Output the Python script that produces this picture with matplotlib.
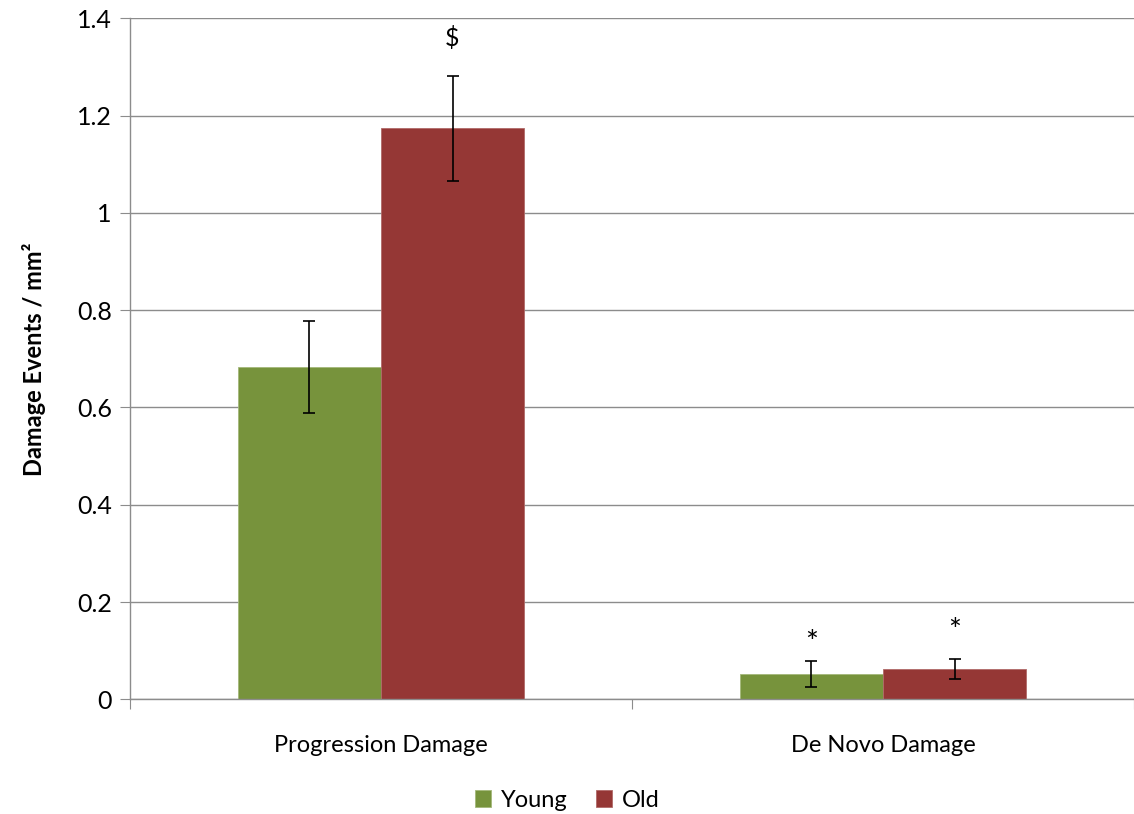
"""
Damage events per mm2 for young and old groups, bar chart with SEM error bars
"""

import numpy as np
import matplotlib
matplotlib.use('Agg')
import matplotlib.pyplot as plt

plt.rcParams['font.family'] = ['Lato', 'DejaVu Sans']

# Data
categories = ['Progression Damage', 'De Novo Damage']
groups = ['Young', 'Old']
young_mean = [0.683, 0.052]
young_err = [0.095, 0.026]
old_mean = [1.174, 0.062]
old_err = [0.108, 0.020]
# significance marks: (category, group, label, y)
marks = [(0, 'Old', '$', 1.36), (1, 'Young', '*', 0.115), (1, 'Old', '*', 0.14)]

colors = {'Young': '#77933C', 'Old': '#953735'}
grid_col = '#8c8c8c'

fig = plt.figure(figsize=(11.34, 8.14), dpi=100)
ax = fig.add_axes([0.1146, 0.1409, 0.8854, 0.8366])

x = np.arange(len(categories))
w = 0.285
offsets = {'Young': -w / 2, 'Old': w / 2}

ax.bar(x + offsets['Young'], young_mean, width=w, color=colors['Young'],
       edgecolor='#a4b87a', linewidth=0.6, label='Young', zorder=2)
ax.bar(x + offsets['Old'], old_mean, width=w, color=colors['Old'],
       edgecolor='#b06a68', linewidth=0.6, label='Old', zorder=2)
ax.errorbar(x + offsets['Young'], young_mean, yerr=young_err, fmt='none',
            ecolor='black', elinewidth=1.2, capsize=4, capthick=1.2, zorder=3)
ax.errorbar(x + offsets['Old'], old_mean, yerr=old_err, fmt='none',
            ecolor='black', elinewidth=1.2, capsize=4, capthick=1.2, zorder=3)

for cat, grp, label, y in marks:
    ax.text(x[cat] + offsets[grp], y, label, ha='center', va='center',
            fontsize=22 if label == '*' else 18)

ax.set_xlim(-0.5, len(categories) - 0.5)
ax.set_ylim(0, 1.4)
ax.set_yticks(np.arange(0, 1.41, 0.2))
ax.set_yticklabels(['0', '0.2', '0.4', '0.6', '0.8', '1', '1.2', '1.4'])
ax.yaxis.grid(True, color=grid_col, linewidth=1.0, zorder=0)
ax.set_axisbelow(True)

# category boundary ticks on x axis
ax.set_xticks([-0.5, 0.5, 1.5])
ax.set_xticklabels([])
ax.set_xticks(x, minor=True)
ax.set_xticklabels(categories, minor=True)
ax.tick_params(axis='x', which='minor', length=0, pad=26, labelsize=17)
ax.tick_params(axis='x', which='major', length=7, color=grid_col, direction='out')
ax.tick_params(axis='y', length=7, color=grid_col, direction='out', pad=6,
               labelsize=18)

for side in ['top', 'right']:
    ax.spines[side].set_visible(False)
for side in ['left', 'bottom']:
    ax.spines[side].set_color(grid_col)
    ax.spines[side].set_linewidth(1.0)

ax.set_ylabel('Damage Events / mm²', fontsize=17, fontweight='bold', labelpad=22)

fig.legend(loc='lower center', bbox_to_anchor=(0.5, -0.022), ncol=2, frameon=False,
           fontsize=17, handlelength=0.7, handleheight=0.7, handletextpad=0.4,
           columnspacing=1.2)

plt.savefig('out.png', dpi=100)
